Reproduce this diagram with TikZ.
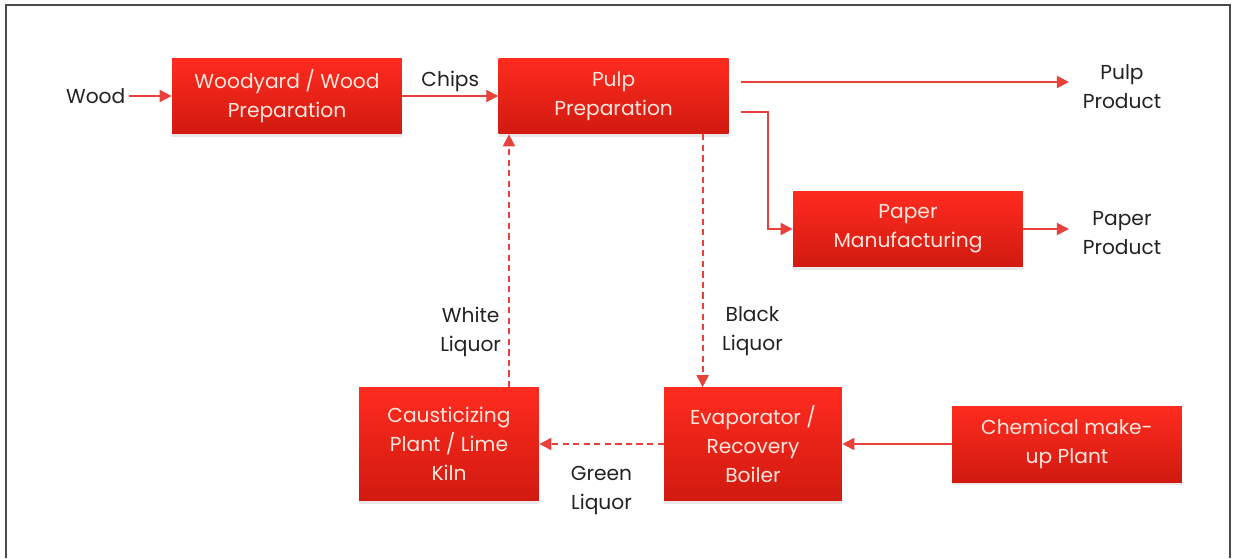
\documentclass[tikz,border=0pt]{standalone}
\usepackage{fontspec}
\setmainfont{Poppins}
\usetikzlibrary{arrows.meta,positioning,shadows}
\usepackage{xcolor}
\definecolor{boxtop}{HTML}{FF2B1F}
\definecolor{boxbot}{HTML}{D11A10}
\definecolor{boxtxt}{HTML}{FFE6DC}
\definecolor{flowcol}{HTML}{E8413B}
\definecolor{framecol}{HTML}{4A4A4A}
\definecolor{lblcol}{HTML}{222222}

\begin{document}
\begin{tikzpicture}[x=0.02cm, y=-0.02cm,
  proc/.style={top color=boxtop, bottom color=boxbot, draw=none, text=boxtxt, align=center,
               font=\fontsize{11.5}{16.5}\selectfont, minimum width=4.6cm, minimum height=1.52cm,
               inner sep=2pt, drop shadow={shadow xshift=0pt, shadow yshift=-1.8pt, opacity=0.18}},
  lbl/.style={text=lblcol, align=center, font=\fontsize{11.5}{16.5}\selectfont, inner sep=2pt},
  arr/.style={-{Triangle[length=0.24cm,width=0.24cm]}, draw=flowcol, line width=1.1pt},
  darr/.style={arr, dash pattern=on 3.5pt off 2.5pt}]
  \useasboundingbox (0,0) rectangle (1234,558);
  \draw[framecol, line width=1.5pt] (6,558) -- (6,5) -- (1230,5) -- (1230,558);

  \node[proc] (wood) at (287,96) {Woodyard / Wood\\Preparation};
  \node[proc, right=1.92cm of wood] (pulp) {Pulp\\Preparation};
  \node[proc] (paper) at (908,229) {Paper\\Manufacturing};
  \node[proc, minimum width=3.6cm, minimum height=2.26cm] (caust) at (449,444) {Causticizing\\Plant / Lime\\Kiln};
  \node[proc, minimum width=3.56cm, minimum height=2.26cm] (evap) at (753,444) {Evaporator /\\Recovery\\Boiler};
  \node[proc] (chem) at (1067,444) {Chemical make-\\up Plant};
  \node[lbl, left=0.85cm of wood] (woodin) {Wood};
  \node[lbl] (pulpprod) at (1122,87) {Pulp\\Product};
  \node[lbl] (paperprod) at (1122,233) {Paper\\Product};

  \draw[arr] (woodin) -- (wood);
  \draw[arr] (wood) -- node[lbl, above]{Chips} (pulp);
  \draw[arr, shorten <=0.24cm, shorten >=0.2cm] ([yshift=0.28cm]pulp.east) -- ([yshift=0.28cm]pulp.east -| pulpprod.west);
  \draw[arr, shorten <=0.24cm] ([yshift=-0.32cm]pulp.east) -- ++(0.78cm,0) |- (paper.west);
  \draw[arr, shorten >=0.2cm] (paper.east) -- (paper.east -| paperprod.west);
  \draw[darr] ([xshift=1.78cm]pulp.south) -- node[lbl, right=0.3cm, pos=0.78]{Black\\Liquor} ([xshift=1.78cm]pulp.south |- evap.north);
  \draw[darr] ([xshift=1.2cm]caust.north) -- node[lbl, left=0.07cm, pos=0.22]{White\\Liquor} ([xshift=1.2cm]caust.north |- pulp.south);
  \draw[darr] (evap) -- node[lbl, below=0.36cm]{Green\\Liquor} (caust);
  \draw[arr] (chem) -- (evap);
\end{tikzpicture}
\end{document}
